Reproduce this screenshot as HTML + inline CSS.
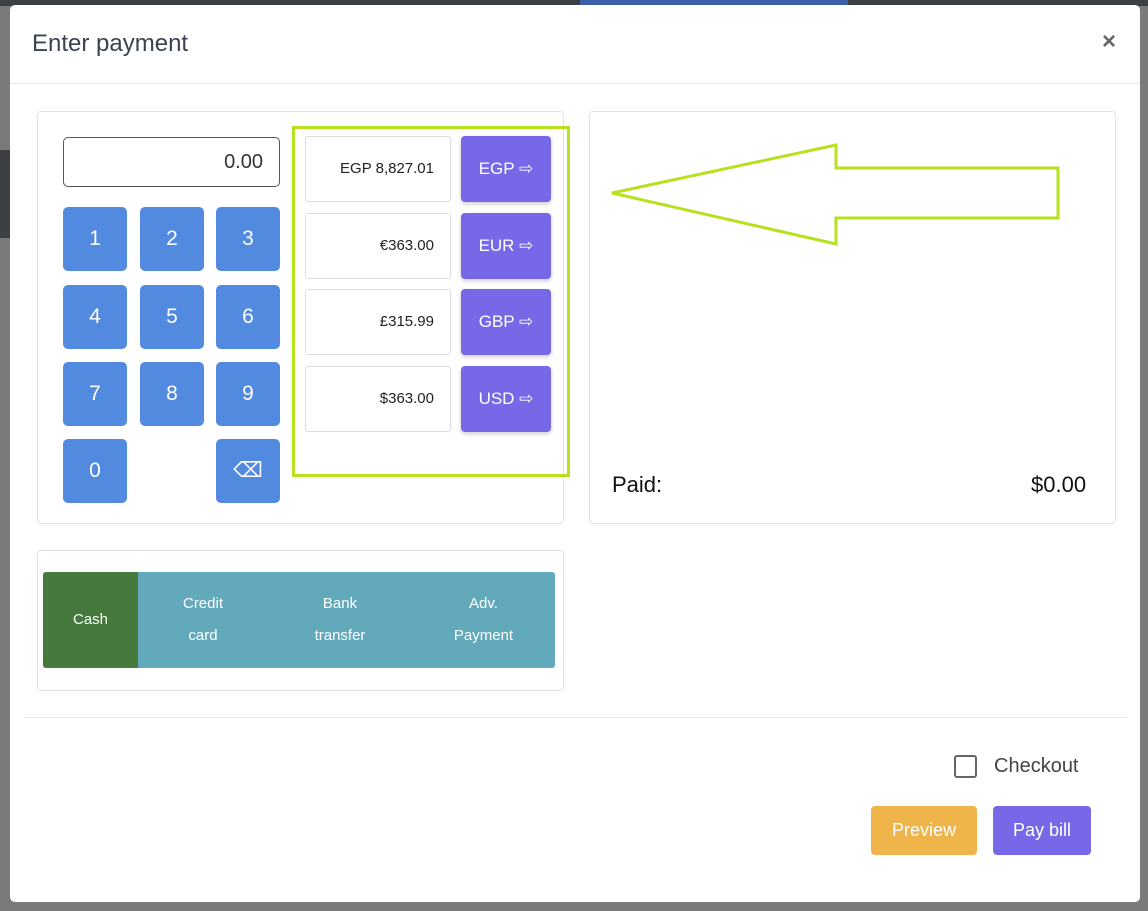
<!DOCTYPE html>
<html><head><style>
body{margin:0;width:1148px;height:911px;background:#7a7a7a;position:relative;overflow:hidden;font-family:"Liberation Sans",sans-serif}
.a{position:absolute}
.modal{left:10px;top:5px;width:1130px;height:897px;background:#fff;border-radius:5px}
.k{position:absolute;width:64px;height:64px;background:#528ae0;border-radius:5px;color:#fff;font-size:21px;text-align:center;line-height:64px}
.box{position:absolute;border:1px solid #e2e2e2;border-radius:4px;background:#fff}
.amt{position:absolute;left:305px;width:146px;height:66px;border:1px solid #ddd;border-radius:3px;font-size:15px;text-align:right;line-height:64px;box-sizing:border-box;padding-right:16px;color:#222}
.cb{position:absolute;left:461px;width:90px;height:66px;background:#7668e6;border-radius:4px;color:#fff;font-size:17px;text-align:center;line-height:66px;box-shadow:0 2px 4px rgba(0,0,0,.2)}
.pm{position:absolute;top:572px;height:96px;color:#fff;font-size:15px;text-align:center;line-height:32px;display:flex;align-items:center;justify-content:center}
</style></head><body>
<div class="a" style="left:0;top:0;width:1148px;height:6px;background:#3c3f44"></div>
<div class="a" style="left:580px;top:0;width:268px;height:6px;background:#3b5fa8"></div>
<div class="a" style="left:0;top:150px;width:10px;height:88px;background:#3c3f44"></div>
<div class="a modal"></div>
<div class="a" style="left:32px;top:30px;font-size:24px;color:#3a4450">Enter payment</div>
<div class="a" style="left:1102px;top:28px;font-size:24px;color:#666;font-weight:bold">×</div>
<div class="a" style="left:10px;top:83px;width:1130px;height:1px;background:#e8e8e8"></div>
<div class="box" style="left:37px;top:111px;width:525px;height:411px"></div>
<div class="box" style="left:589px;top:111px;width:525px;height:411px"></div>
<div class="box" style="left:37px;top:550px;width:525px;height:139px"></div>
<div class="a" style="left:63px;top:137px;border:1px solid #555;border-radius:5px;text-align:right;font-size:20px;line-height:48px;box-sizing:border-box;padding-right:16px;color:#333;width:217px;height:50px">0.00</div>
<div class="k" style="left:63px;top:207px">1</div><div class="k" style="left:140px;top:207px">2</div><div class="k" style="left:216px;top:207px">3</div>
<div class="k" style="left:63px;top:285px">4</div><div class="k" style="left:140px;top:285px">5</div><div class="k" style="left:216px;top:285px">6</div>
<div class="k" style="left:63px;top:362px">7</div><div class="k" style="left:140px;top:362px">8</div><div class="k" style="left:216px;top:362px">9</div>
<div class="k" style="left:63px;top:439px">0</div><div class="k" style="left:216px;top:439px">⌫</div>
<div class="amt" style="top:136px">EGP 8,827.01</div><div class="cb" style="top:136px">EGP ⇨</div>
<div class="amt" style="top:213px">€363.00</div><div class="cb" style="top:213px">EUR ⇨</div>
<div class="amt" style="top:289px">£315.99</div><div class="cb" style="top:289px">GBP ⇨</div>
<div class="amt" style="top:366px">$363.00</div><div class="cb" style="top:366px">USD ⇨</div>
<div class="a" style="left:292px;top:126px;width:272px;height:345px;border:3px solid #b5e21c"></div>
<svg class="a" style="left:0;top:0" width="1148" height="911"><polygon points="612,193 836,145 836,168 1058,168 1058,218 836,218 836,244" fill="none" stroke="#b5e21c" stroke-width="3"/></svg>
<div class="a" style="left:612px;top:472px;font-size:22px;color:#111">Paid:</div>
<div class="a" style="left:1031px;top:472px;font-size:22px;color:#111">$0.00</div>
<div class="a" style="left:43px;top:572px;width:512px;height:96px;background:#62aabb;border-radius:3px"></div>
<div class="pm" style="left:43px;width:95px;background:#457a3c;border-radius:3px 0 0 3px">Cash</div>
<div class="pm" style="left:138px;width:130px">Credit<br>card</div>
<div class="pm" style="left:268px;width:144px">Bank<br>transfer</div>
<div class="pm" style="left:412px;width:143px">Adv.<br>Payment</div>
<div class="a" style="left:24px;top:717px;width:1103px;height:1px;background:#e8e8e8"></div>
<div class="a" style="left:954px;top:755px;border:2px solid #666;border-radius:3px;box-sizing:border-box;width:23px;height:23px"></div>
<div class="a" style="left:994px;top:755px;font-size:20px;color:#444">Checkout</div>
<div class="a" style="left:871px;top:806px;width:106px;height:49px;background:#efb54b;border-radius:4px;color:#fff;font-size:18px;text-align:center;line-height:49px">Preview</div>
<div class="a" style="left:993px;top:806px;width:98px;height:49px;background:#7668e6;border-radius:4px;color:#fff;font-size:18px;text-align:center;line-height:49px">Pay bill</div>
</body></html>
